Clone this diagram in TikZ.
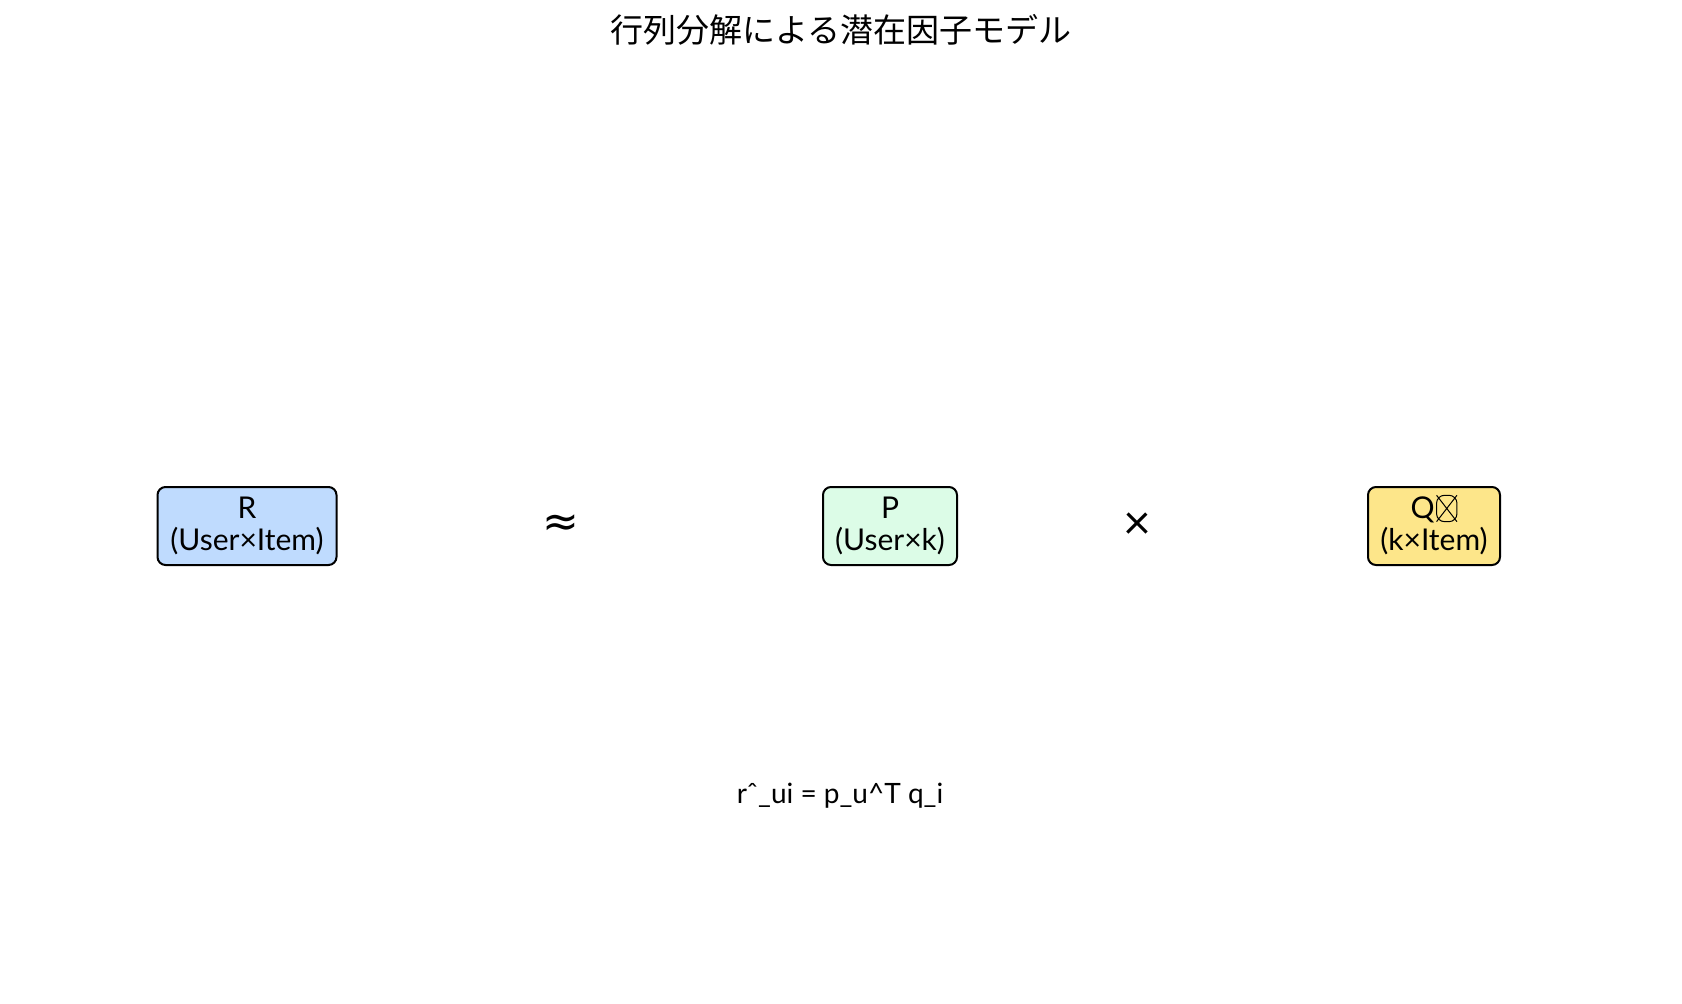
\documentclass[tikz,border=0pt]{standalone}
\usepackage{fontspec}
\setmainfont{Lato}
\newfontfamily\cjk{Noto Sans CJK JP}
\newfontfamily\dejavu{DejaVu Sans}
\definecolor{rblue}{HTML}{BFDBFE}
\definecolor{pgreen}{HTML}{DCFCE7}
\definecolor{qyellow}{HTML}{FDE68A}
\newcommand{\tofuglyph}{\hspace{0.05em}\smash{\tikz[baseline=0pt]\draw[line width=1pt] (0,-0.1em) rectangle (0.68em,0.78em) (0,-0.1em)--(0.68em,0.78em) (0,0.78em)--(0.68em,-0.1em);}}
\tikzset{
  matbox/.style={draw=black, line width=2pt, rounded corners=8pt, align=center, inner sep=0pt,
    minimum height=78pt, font=\fontsize{30}{32}\selectfont},
  opsym/.style={inner sep=0pt},
}
\begin{document}
\begin{tikzpicture}[x=1pt,y=-1pt]
\useasboundingbox (0,0) rectangle (1682,1004);
\node[font=\cjk\fontsize{33}{33}\selectfont, inner sep=0pt] (title) at (841,30) {行列分解による潜在因子モデル};
\node[matbox, fill=rblue, minimum width=179pt] (R) at (247,526) {R\\(User×Item)};
\node[opsym, font=\dejavu\fontsize{44}{44}\selectfont] (approx) at (561,526) {≈};
\node[matbox, fill=pgreen, minimum width=134pt] (P) at (890,526) {P\\(User×k)};
\node[opsym, font=\fontsize{48}{48}\selectfont] (times) at (1137,526) {×};
\node[matbox, fill=qyellow, minimum width=132pt] (Q) at (1434,526) {Q\tofuglyph\\(k×Item)};
\node[font=\fontsize{28}{28}\selectfont, inner sep=0pt] (formula) at (840,796) {rˆ\_ui = p\_u\^{}T q\_i};
\end{tikzpicture}
\end{document}
